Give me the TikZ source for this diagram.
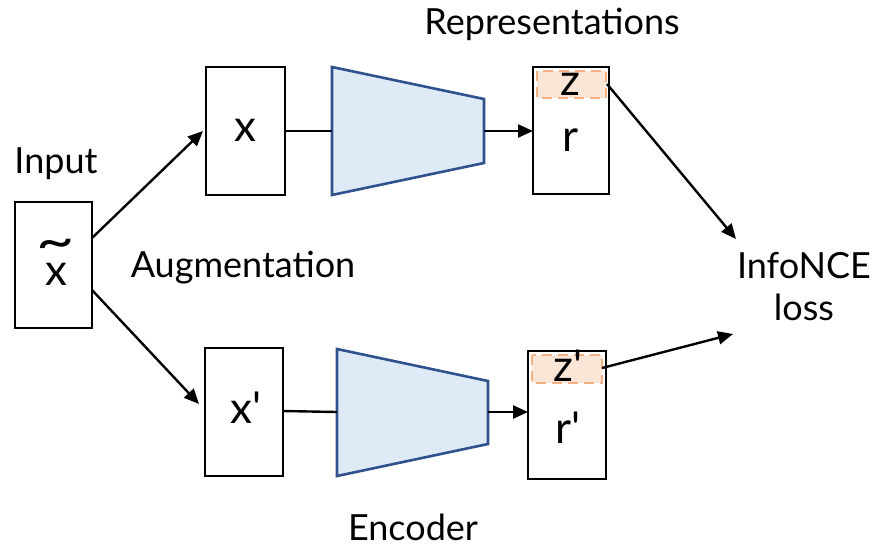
\documentclass[tikz,border=0pt]{standalone}
\usepackage{fontspec}
\setmainfont{Lato}
\usetikzlibrary{arrows.meta}
\definecolor{encblue}{RGB}{47,82,143}
\definecolor{encfill}{RGB}{222,235,247}
\definecolor{zedge}{RGB}{244,177,131}
\definecolor{zfill}{RGB}{251,229,214}
\tikzset{
  databox/.style={draw=black, line width=2.4pt, fill=white},
  enc/.style={draw=encblue, line width=2.6pt, fill=encfill, line join=miter},
  zbox/.style={draw=zedge, line width=2.6pt, fill=zfill, dash pattern=on 10pt off 6pt},
  conn/.style={line width=2.4pt, draw=black},
  arr/.style={conn, -{Triangle[length=15pt, width=13pt]}},
  lbl/.style={font=\fontsize{36}{42}\selectfont, inner sep=0pt},
  sym/.style={font=\fontsize{44}{48}\selectfont, inner sep=0pt},
}
\begin{document}
\begin{tikzpicture}[x=1pt, y=-1pt]
\useasboundingbox (0,0) rectangle (877,550);

% input and augmented views
\draw[databox] (15,202) rectangle (92,328);
\node[sym, align=center] (xt) at (56,262)
  {\scalebox{1.5}[1.2]{\textasciitilde}\\[-22pt]x};
\coordinate (inUp) at (92,238);
\coordinate (inDn) at (92,290);

\draw[databox] (206,67) rectangle (285,195);
\node[sym] (x) at (245,130) {x};
\draw[databox] (205,348) rectangle (283,476);
\node[sym] (xp) at (246,408) {x\textquotesingle};

% encoders
\draw[enc] (332,67) -- (484,99) -- (484,163) -- (332,195) -- cycle;
\draw[enc] (337,349) -- (488,381) -- (488,444) -- (337,476) -- cycle;

% representation boxes
\draw[databox] (533,67) rectangle (609,194);
\draw[zbox] (537,71) rectangle (606,98);
\node[sym] (z) at (570,84) {z};
\node[sym] (r) at (570,140) {r};

\draw[databox] (528,351) rectangle (606,479);
\draw[zbox] (532,355) rectangle (602,383);
\node[sym] (zp) at (568,366) {z\textquotesingle};
\node[sym] (rp) at (568,428) {r\textquotesingle};

% named anchors for connectors
\coordinate (xIn) at (203,131);
\coordinate (xOut) at (285,131);
\coordinate (encIn) at (332,131);
\coordinate (encOut) at (484,131);
\coordinate (rIn) at (533,131);
\coordinate (xpIn) at (199,404);
\coordinate (xpOut) at (283,411);
\coordinate (encpIn) at (337,412);
\coordinate (encpOut) at (488,412);
\coordinate (rpIn) at (528,412);
\coordinate (zOut) at (607,84);
\coordinate (zpOut) at (602,368);
\coordinate (lossUp) at (736,239);
\coordinate (lossDn) at (733,334);

% connectors
\draw[arr] (inUp) -- (xIn);
\draw[arr] (inDn) -- (xpIn);
\draw[conn] (xOut) -- (encIn);
\draw[arr] (encOut) -- (rIn);
\draw[conn] (xpOut) -- (encpIn);
\draw[arr] (encpOut) -- (rpIn);
\draw[arr] (zOut) -- (lossUp);
\draw[arr] (zpOut) -- (lossDn);

% labels
\node[lbl] (rep) at (552,24) {Representations};
\node[lbl] (inp) at (56,164) {Input};
\node[lbl] (aug) at (243,268) {Augmentation};
\node[lbl] (info) at (804,266) {InfoNCE};
\node[lbl] (loss) at (804,307) {loss};
\node[lbl] (encl) at (413,527) {Encoder};
\end{tikzpicture}
\end{document}
